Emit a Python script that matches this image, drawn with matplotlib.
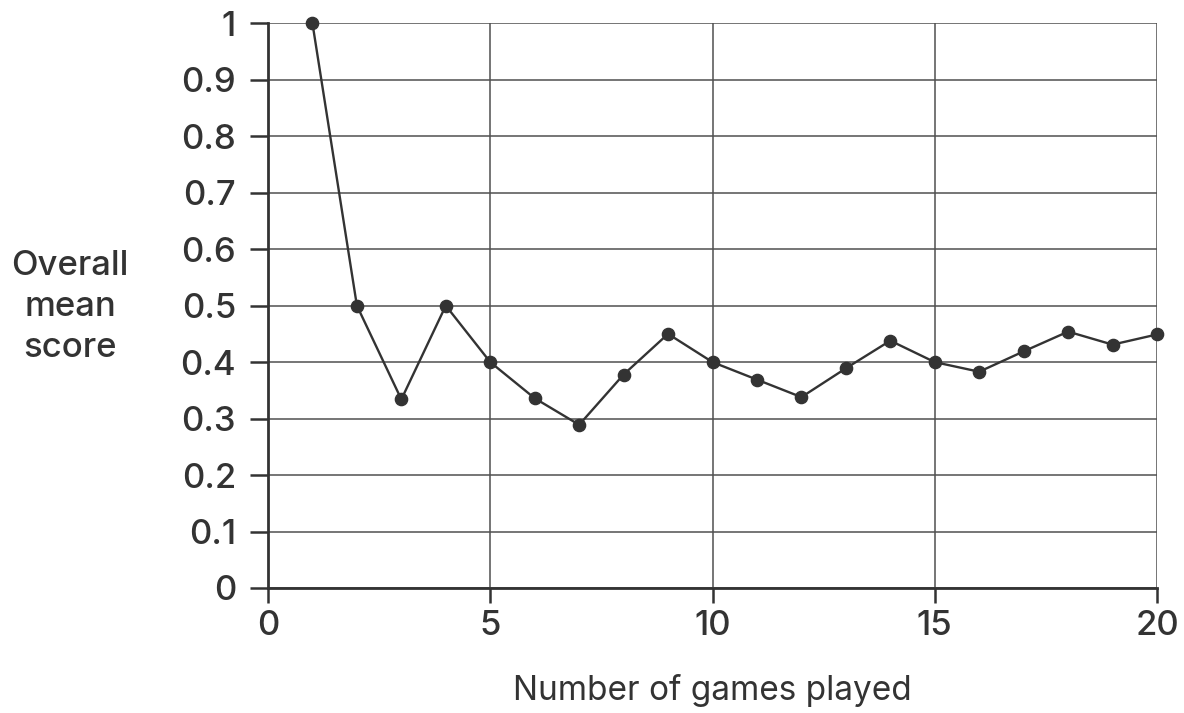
import matplotlib
matplotlib.use("Agg")
import matplotlib.pyplot as plt

games = list(range(1, 21))
mean_score = [1.0, 0.5, 0.334, 0.5, 0.4, 0.336, 0.289, 0.378, 0.45, 0.4,
              0.369, 0.338, 0.389, 0.438, 0.4, 0.383, 0.419, 0.454, 0.431, 0.449]
x_ticks = [0, 5, 10, 15, 20]
y_ticks = [0, 0.1, 0.2, 0.3, 0.4, 0.5, 0.6, 0.7, 0.8, 0.9, 1]
y_tick_labels = ["0", "0.1", "0.2", "0.3", "0.4", "0.5", "0.6", "0.7", "0.8", "0.9", "1"]

plt.rcParams['font.family'] = ['Inter', 'DejaVu Sans']
plt.rcParams['font.weight'] = 'medium'

fig = plt.figure(figsize=(11.84, 7.13), dpi=100)
ax = fig.add_axes([268/1184, 1 - 588/713, (1157-268)/1184, (588-23.3)/713])

ax.set_xlim(0, 20)
ax.set_ylim(0, 1)
ax.set_xticks(x_ticks)
ax.set_yticks(y_ticks)
ax.set_yticklabels(y_tick_labels)

ax.grid(True, color='#505050', linewidth=1.1)
ax.set_axisbelow(True)

for s in ['top', 'right']:
    ax.spines[s].set_visible(False)
for s in ['left', 'bottom']:
    ax.spines[s].set_linewidth(2.0)
    ax.spines[s].set_color('#333333')

ax.tick_params(axis='y', direction='out', length=13, width=1.8, color='#333333',
               labelsize=25, labelcolor='#333333', pad=10)
ax.tick_params(axis='x', direction='out', length=11, width=1.8, color='#333333',
               labelsize=25, labelcolor='#333333', pad=5)

ax.plot(games, mean_score, color='#333333', linewidth=1.7, marker='o',
        markersize=8.8, clip_on=False, zorder=5)

ax.set_xlabel("Number of games played", fontsize=24, color='#333333', labelpad=23)
fig.text(70/1184, 1 - 307/713, "Overall\nmean\nscore", ha='center', va='center',
         fontsize=25, color='#333333', linespacing=1.35)

fig.savefig("out.png", dpi=100)
